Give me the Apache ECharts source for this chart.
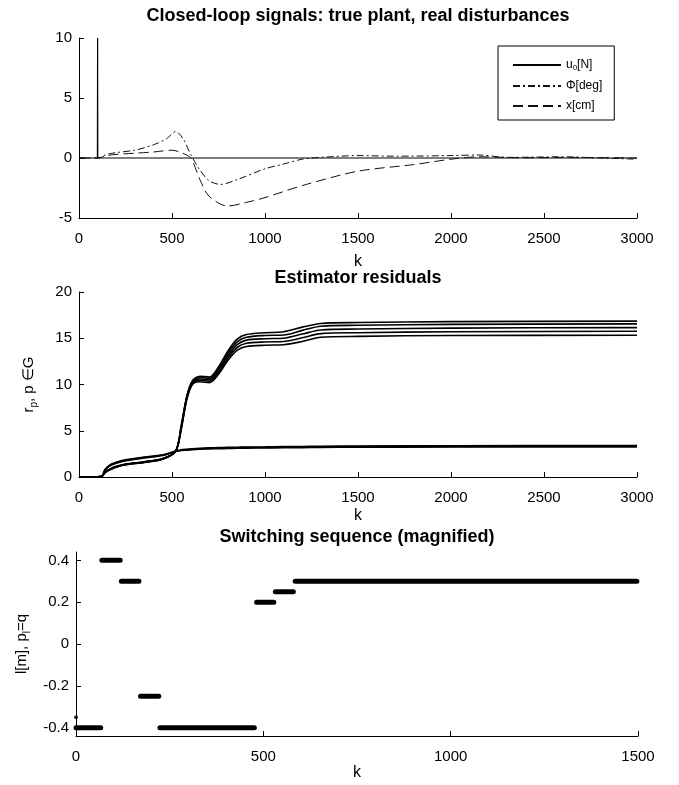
<!DOCTYPE html>
<html>
<head>
<meta charset="utf-8">
<script src="https://cdn.jsdelivr.net/npm/echarts@6/dist/echarts.min.js"></script>
<style>
  html, body { margin: 0; padding: 0; background: #fff; }
  #chart { width: 679px; height: 785px; }
</style>
</head>
<body>
<div id="chart"></div>
<script>
// ---- panel 1: closed-loop signals ----
const uK = [0, 99, 100, 101, 3000];
const uVal = [0, 0, 10, 0, 0];

const phiK = [0, 100, 150, 200, 300, 400, 470, 520, 560, 600, 650, 700, 760, 850, 1000, 1100, 1200, 1300, 1500, 1700, 2000, 2150, 2300, 2600, 2800, 3000];
const phiVal = [0, 0, 0.3, 0.45, 0.65, 1.1, 1.6, 2.2, 1.6, 0.3, -1.0, -1.9, -2.2, -1.8, -0.9, -0.5, -0.1, 0.05, 0.2, 0.15, 0.2, 0.25, 0.05, 0.1, 0, -0.1];

const xK = [0, 100, 150, 200, 300, 400, 500, 540, 600, 650, 700, 800, 900, 1000, 1200, 1500, 1800, 2000, 2150, 2400, 2600, 3000];
const xVal = [0, 0, 0.2, 0.3, 0.4, 0.5, 0.65, 0.5, 0, -1.8, -3.2, -4.0, -3.7, -3.3, -2.3, -1.1, -0.55, -0.1, 0.1, 0.02, 0.05, 0];

// ---- panel 2: estimator residuals ----
const resK = [0, 120, 140, 170, 200, 250, 350, 450, 520, 550, 580, 610, 650, 700, 750, 800, 850, 900, 1000, 1100, 1200, 1300, 1500, 2000, 3000];
const resHigh = [
  [0, 0.05, 0.5, 0.9, 1.15, 1.4, 1.65, 2.0, 2.8, 5.6, 8.8, 10.4, 10.9, 10.8, 11.9, 13.6, 14.9, 15.4, 15.6, 15.7, 16.2, 16.6, 16.7, 16.8, 16.85],
  [0, 0.05, 0.5, 0.88, 1.12, 1.38, 1.62, 1.98, 2.8, 5.5, 8.7, 10.3, 10.75, 10.65, 11.7, 13.35, 14.6, 15.1, 15.3, 15.35, 15.85, 16.3, 16.4, 16.5, 16.55],
  [0, 0.05, 0.5, 0.86, 1.1, 1.36, 1.6, 1.96, 2.8, 5.4, 8.6, 10.2, 10.6, 10.5, 11.5, 13.1, 14.3, 14.8, 14.95, 15.0, 15.45, 15.9, 16.0, 16.1, 16.15],
  [0, 0.05, 0.5, 0.84, 1.08, 1.34, 1.58, 1.94, 2.8, 5.3, 8.5, 10.1, 10.45, 10.35, 11.3, 12.85, 14.0, 14.45, 14.6, 14.65, 15.05, 15.5, 15.6, 15.7, 15.75],
  [0, 0.05, 0.5, 0.82, 1.06, 1.32, 1.56, 1.92, 2.8, 5.2, 8.4, 10.0, 10.3, 10.2, 11.1, 12.6, 13.7, 14.1, 14.25, 14.3, 14.65, 15.1, 15.2, 15.3, 15.32]
];
const resLow = [
  [0, 0.05, 0.8, 1.35, 1.6, 1.85, 2.15, 2.4, 2.8, 2.95, 3.0, 3.05, 3.1, 3.15, 3.18, 3.2, 3.22, 3.24, 3.26, 3.28, 3.3, 3.32, 3.35, 3.38, 3.4],
  [0, 0.05, 0.78, 1.3, 1.55, 1.8, 2.1, 2.36, 2.78, 2.9, 2.95, 3.0, 3.05, 3.1, 3.12, 3.14, 3.16, 3.18, 3.2, 3.22, 3.24, 3.26, 3.28, 3.31, 3.33],
  [0, 0.05, 0.76, 1.26, 1.5, 1.76, 2.06, 2.32, 2.76, 2.86, 2.9, 2.95, 3.0, 3.04, 3.06, 3.08, 3.1, 3.12, 3.14, 3.16, 3.18, 3.2, 3.22, 3.24, 3.26]
];

// ---- panel 3: switching sequence ----
const segStart = [0, 69, 121, 172, 224, 482, 532, 585];
const segEnd = [66, 118, 168, 221, 476, 528, 580, 1497];
const segLevel = [-0.4, 0.4, 0.3, -0.25, -0.4, 0.2, 0.25, 0.3];
const initK = [0];
const initVal = [-0.35];

const yTicks3 = [-0.4, -0.2, 0, 0.2, 0.4];

const zip = (a, b) => a.map((v, i) => [v, b[i]]);

const font = 'Liberation Sans, Arial, sans-serif';
const lbl = { color: '#000', fontSize: 15, fontFamily: font, formatter: (v) => String(v) };

function xAx(gridIndex, max, nameGap) {
  return {
    type: 'value', gridIndex, min: 0, max, interval: 500,
    name: 'k', nameLocation: 'middle', nameGap,
    nameTextStyle: { color: '#000', fontSize: 16, fontFamily: font },
    axisLine: { onZero: false, lineStyle: { color: '#000', width: 1 } },
    axisTick: { inside: true, length: 5, lineStyle: { color: '#000' } },
    axisLabel: Object.assign({ margin: 13 }, lbl),
    splitLine: { show: false }
  };
}

function yAx(gridIndex, extra) {
  return Object.assign({
    type: 'value', gridIndex,
    axisLine: { show: true, onZero: false, lineStyle: { color: '#000', width: 1 } },
    axisTick: { show: true, inside: true, length: 5, lineStyle: { color: '#000' } },
    axisLabel: Object.assign({ margin: 7 }, lbl),
    splitLine: { show: false }
  }, extra);
}

const subRich = {
  n: { fontSize: 15, fontFamily: font, color: '#000', lineHeight: 20 },
  s: { fontSize: 10, fontFamily: font, color: '#000', verticalAlign: 'bottom', lineHeight: 9 }
};

const series = [];
series.push({
  name: 'u0[N]', type: 'line', xAxisIndex: 0, yAxisIndex: 0, symbol: 'none',
  data: zip(uK, uVal), lineStyle: { color: '#000', width: 1.2 }, itemStyle: { color: '#000' }
});
series.push({
  name: 'Φ[deg]', type: 'line', xAxisIndex: 0, yAxisIndex: 0, symbol: 'none', smooth: 0.3,
  data: zip(phiK, phiVal), lineStyle: { color: '#111', width: 1, type: [7, 3, 2, 3] }, itemStyle: { color: '#000' }
});
series.push({
  name: 'x[cm]', type: 'line', xAxisIndex: 0, yAxisIndex: 0, symbol: 'none', smooth: 0.3,
  data: zip(xK, xVal), lineStyle: { color: '#111', width: 1, type: [10, 5] }, itemStyle: { color: '#000' }
});
resHigh.concat(resLow).forEach((arr) => {
  series.push({
    type: 'line', xAxisIndex: 1, yAxisIndex: 1, symbol: 'none', smooth: 0.3,
    data: zip(resK, arr), lineStyle: { color: '#000', width: 1.6 }
  });
});
const segData = [];
segStart.forEach((s, i) => {
  segData.push([s, segLevel[i]], [segEnd[i], segLevel[i]], [null, null]);
});
series.push({
  type: 'line', xAxisIndex: 2, yAxisIndex: 2, symbol: 'none', connectNulls: false,
  data: segData, lineStyle: { color: '#000', width: 5, cap: 'round' }
});
series.push({
  type: 'scatter', xAxisIndex: 2, yAxisIndex: 2, symbol: 'circle', symbolSize: 4,
  data: zip(initK, initVal), itemStyle: { color: '#000' }
});

const titleStyle = { fontSize: 18, fontWeight: 'bold', fontFamily: font, color: '#000' };

const option = {
  backgroundColor: '#fff',
  animation: false,
  title: [
    { text: 'Closed-loop signals: true plant, real disturbances', left: 358, top: 7, textAlign: 'center', padding: 0, textStyle: titleStyle },
    { text: 'Estimator residuals', left: 358, top: 269, textAlign: 'center', padding: 0, textStyle: titleStyle },
    { text: 'Switching sequence (magnified)', left: 357, top: 528, textAlign: 'center', padding: 0, textStyle: titleStyle }
  ],
  legend: {
    data: ['u0[N]', 'Φ[deg]', 'x[cm]'],
    orient: 'vertical', left: 498, top: 46,
    padding: [13, 12, 8, 14], itemGap: 8, itemWidth: 48, itemHeight: 12,
    borderColor: '#000', borderWidth: 1, borderRadius: 0,
    backgroundColor: '#fff',
    itemStyle: { color: 'transparent', borderColor: 'transparent', borderWidth: 0 },
    formatter: (name) => name === 'u0[N]' ? '{n|u}{s|0}{n|[N]}' : '{n|' + name + '}',
    textStyle: {
      rich: {
        n: { fontSize: 12, fontFamily: font, color: '#000', lineHeight: 14 },
        s: { fontSize: 8, fontFamily: font, color: '#000', verticalAlign: 'bottom', lineHeight: 8 }
      }
    }
  },
  grid: [
    { left: 79, right: 42, top: 38, height: 180 },
    { left: 79, right: 42, top: 292, height: 185 },
    { left: 76, right: 41, top: 552, height: 184 }
  ],
  xAxis: [xAx(0, 3000, 36), xAx(1, 3000, 31), xAx(2, 1500, 28)],
  yAxis: [
    yAx(0, { min: -5, max: 10, interval: 5 }),
    yAx(1, { min: 0, max: 20, interval: 5, name: '{n|r}{s|p}{n|, p ∈G}', nameLocation: 'middle', nameGap: 40,
      nameTextStyle: { rich: subRich } }),
    yAx(2, { min: -0.44, max: 0.44,
      name: '{n|l[m], p}{s|l}{n|=q}', nameLocation: 'middle', nameGap: 40,
      nameTextStyle: { rich: subRich },
      axisTick: { show: true, inside: true, length: 5, lineStyle: { color: '#000' }, customValues: yTicks3 },
      axisLabel: Object.assign({ margin: 7, customValues: yTicks3 }, lbl) })
  ],
  series
};

const chart = echarts.init(document.getElementById('chart'), null, { renderer: 'canvas' });
chart.setOption(option);
</script>
</body>
</html>
